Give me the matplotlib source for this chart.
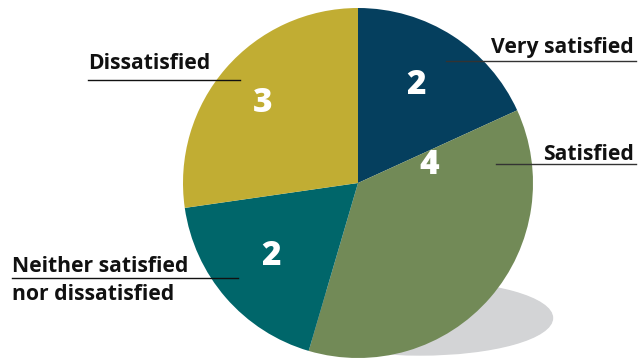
import numpy as np
import matplotlib
matplotlib.use("Agg")
import matplotlib.pyplot as plt
from matplotlib.patches import Ellipse

categories = ["Very satisfied", "Satisfied", "Neither satisfied\nnor dissatisfied", "Dissatisfied"]
counts = [2, 4, 2, 3]
colors = ["#053f5e", "#728a57", "#00666a", "#c1ad33"]

# where the count sits inside each slice (fraction of radius, angle shift in deg)
num_dist = [0.65, 0.42, 0.65, 0.71]
num_shift = [2, 55, -1, 1]

W, H = 643, 358
plt.rcParams['font.family'] = ['Open Sans', 'DejaVu Sans']

fig = plt.figure(figsize=(W / 100, H / 100), dpi=100)
ax = fig.add_axes([0, 0, 1, 1])

cx, cy, r = 358, H - 183, 175

# drop shadow
ax.add_patch(Ellipse((420, H - 318), 265, 74, color="#d3d4d6", zorder=0))

wedges, _ = ax.pie(counts, colors=colors, startangle=90, counterclock=False,
                   center=(cx, cy), radius=r, frame=True,
                   wedgeprops=dict(linewidth=0, zorder=2))
ax.set_xlim(0, W)
ax.set_ylim(0, H)
ax.set_aspect('equal')
ax.axis('off')

for w, n, d, s in zip(wedges, counts, num_dist, num_shift):
    mid = np.deg2rad((w.theta1 + w.theta2) / 2 + s)
    ax.text(cx + d * r * np.cos(mid), cy + d * r * np.sin(mid), str(n),
            color="white", fontsize=24, fontweight="heavy",
            ha="center", va="center", zorder=5)

# labels with leader lines (pixel positions from the top)
lab_style = dict(fontsize=15.2, fontweight="bold", color="#111111", zorder=5)
ax.text(634, H - 53, categories[0], ha="right", va="baseline", **lab_style)
ax.plot([446, 636], [H - 61, H - 61], color="#333333", lw=1, zorder=4)

ax.text(634, H - 160, categories[1], ha="right", va="baseline", **lab_style)
ax.plot([496, 636], [H - 164, H - 164], color="#333333", lw=1, zorder=4)

ax.text(88, H - 69, categories[3], ha="left", va="baseline", **lab_style)
ax.plot([88, 240], [H - 80, H - 80], color="#111111", lw=1, zorder=4)

ax.text(12, H - 272, "Neither satisfied", ha="left", va="baseline", **lab_style)
ax.text(12, H - 300, "nor dissatisfied", ha="left", va="baseline", **lab_style)
ax.plot([12, 238], [H - 278, H - 278], color="#111111", lw=1, zorder=4)

fig.savefig("out.png", dpi=100)
